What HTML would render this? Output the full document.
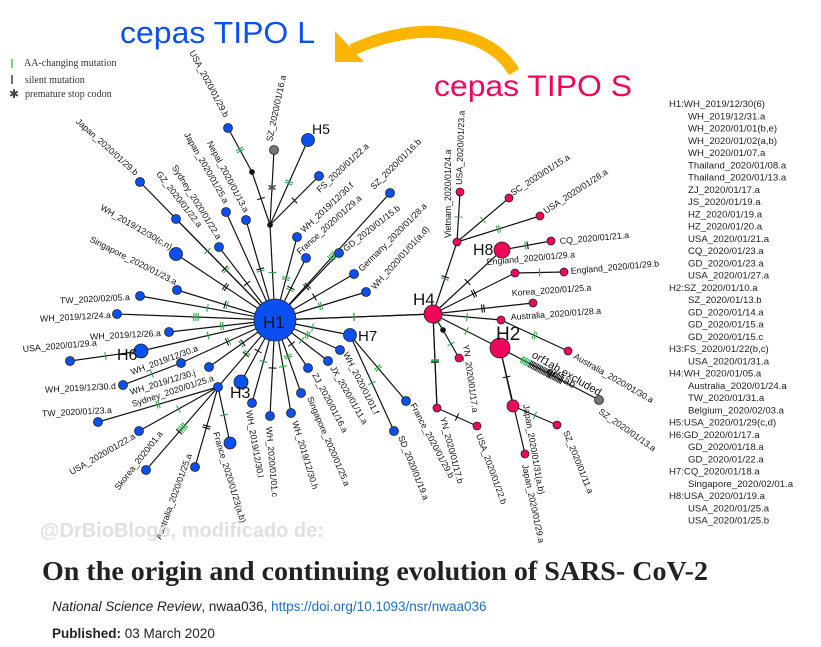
<!DOCTYPE html>
<html><head><meta charset="utf-8"><style>
html,body{margin:0;padding:0;background:#fff;}
body{width:821px;height:647px;overflow:hidden;position:relative;font-family:"Liberation Sans",sans-serif;}
svg{position:absolute;left:0;top:0;}
.lbl{font-size:8.8px;fill:#111;}
</style></head><body>
<svg id="net" width="821" height="647" viewBox="0 0 821 647" xmlns="http://www.w3.org/2000/svg">
  <g id="edges"></g>
  <g id="ticks"></g>
  <g id="nodes"></g>
  <g id="labels"></g>
  <text x="120" y="43" font-size="31" fill="#0b50f0" textLength="195" lengthAdjust="spacingAndGlyphs">cepas TIPO L</text>
  <text x="434" y="96" font-size="30" fill="#f0065c" textLength="198" lengthAdjust="spacingAndGlyphs">cepas TIPO S</text>
  <path d="M514,72 C490,30 420,18 352,50" fill="none" stroke="#fbb400" stroke-width="12"/>
  <polygon points="335,31 335,62 364,62" fill="#fbb400"/>
  <g font-family="Liberation Serif, serif" font-size="10" fill="#333">
    <line x1="12" y1="59" x2="12" y2="68" stroke="#22aa44" stroke-width="1.2"/>
    <text x="24" y="66">AA-changing mutation</text>
    <line x1="12" y1="75" x2="12" y2="84" stroke="#111" stroke-width="1.2"/>
    <text x="25" y="83">silent mutation</text>
    <text x="9" y="98" font-size="12" fill="#444">✱</text>
    <text x="25" y="97">premature stop codon</text>
  </g>
  <g id="hlist" font-size="9.6" fill="#222"></g>
  <text x="40" y="537" font-size="20" font-weight="bold" fill="#e0e0e0">@DrBioBlogo, modificado de:</text>
  <text x="42" y="580" font-family="Liberation Serif, serif" font-size="27" font-weight="bold" fill="#222" textLength="666" lengthAdjust="spacingAndGlyphs">On the origin and continuing evolution of SARS- CoV-2</text>
  <text x="52" y="611" font-size="13.5" fill="#222"><tspan font-style="italic">National Science Review</tspan>, nwaa036, <tspan fill="#1a6fc4">https://doi.org/10.1093/nsr/nwaa036</tspan></text>
  <text x="52" y="638" font-size="13.5" fill="#222"><tspan font-weight="bold">Published:</tspan>  03 March 2020</text>
</svg>
<script>
// node data: label, x, y, radius, colour key, parent index, mutation ticks
const nodeLabels=["H1","J1","J2","USA_2020/01/29.b","SZ_2020/01/16.a","H5","Japan_2020/01/29.b","GZ_2020/01/22.a","Japan_2020/01/25.a","Sydney_2020/01/22.a","Nepal_2020/01/13.a","FS_2020/01/22.a","WH_2019/12/30.f","France_2020/01/29.a","SZ_2020/01/16.b","GD_2020/01/15.b","Germany_2020/01/28.a","WH_2020/01/01(a,d)","WH_2019/12/30(c,n)","Singapore_2020/01/23.a","TW_2020/02/05.a","WH_2019/12/24.a","WH_2019/12/26.a","H6","USA_2020/01/29.a","WH_2019/12/30.a","WH_2019/12/30.d","WH_2019/12/30.j","Sydney_2020/01/25.a","TW_2020/01/23.a","USA_2020/01/22.a","Skorea_2020/01.a","Australia_2020/01/25.a","France_2020/01/23(a,b)","H3","WH_2019/12/30.l","WH_2020/01/01.c","WH_2019/12/30.h","Singapore_2020/01/25.a","ZJ_2020/01/16.a","JX_2020/01/11.a","WH_2020/01/01.f","H7","France_2020/01/29.b","SD_2020/01/19.a","H4","Vietnam_2020/01/24.a","USA_2020/01/23.a","SC_2020/01/15.a","USA_2020/01/28.a","H8","CQ_2020/01/21.a","England_2020/01/29.a","England_2020/01/29.b","Korea_2020/01/25.a","Australia_2020/01/28.a","Australia_2020/01/30.a","H2","J3","YN_2020/01/17.a","YN_2020/01/17.b","USA_2020/01/22.b","Japan_2020/01/31(a,b)","Japan_2020/01/29.a","SZ_2020/01/11.a","SZ_2020/01/13.a"];
const nodeX=[275,270,252,228,274,308,140,176,226,219,246,319,297,306,390,339,354,366,176,177,140,117,169,141,70,181,123,209,218,98,139,146,195,230,241,252,270,291,301,308,328,340,350,406,394,433,457,460,509,540,502,551,515,564,533,501,568,500,443,459,437,477,513,525,557,599];
const nodeY=[320,225,172,128,150,140,182,219,212,247,220,176,237,258,193,253,274,292,254,290,296,314,332,351,361,363,385,367,387,422,431,470,467,443,382,403,416,413,393,368,361,350,335,401,431,314,242,192,198,216,250,241,273,272,303,320,351,348,330,358,408,426,406,454,425,400];
const nodeR=[21,2.5,2.5,4.5,4.5,6.5,4.5,4.5,4.5,4.5,4.5,4.5,4.5,4.5,4.5,4.5,4.5,4.5,6.5,4.5,4.5,4.5,4.5,7,4.5,4.5,4.5,4.5,4.5,4.5,4.5,4.5,4.5,6,7,4.5,4.5,4.5,4.5,4.5,4.5,4.5,6.5,4.5,4.5,9,4,4,4,4,8,4,4,4,4,4,4,10,2.5,4,4,4,6,4,4,4.5];
const nodeColor=["b","k","k","b","g","b","b","b","b","b","b","b","b","b","b","b","b","b","b","b","b","b","b","b","b","b","b","b","b","b","b","b","b","b","b","b","b","b","b","b","b","b","b","b","b","p","p","p","p","p","p","p","p","p","p","p","p","p","k","p","p","p","p","p","p","g"];
const nodeParent=[-1,0,1,2,1,1,0,0,0,0,0,1,0,0,0,0,0,0,0,0,0,0,0,0,23,0,25,0,0,28,28,28,28,28,0,0,0,0,0,0,0,0,0,42,42,0,45,46,46,46,45,50,45,52,45,45,55,45,45,58,45,60,57,57,62,57];
const nodeTicks=["","g","k","gg","*","gg","g","gk","","k","gk","k","gg","gk","gggg","kk","k","gg","kk","gk","g","ggg","gg","g","g","gk","g","kg","gk","gg","g","ggggk","kk","g","k","g","k","g","gg","k","g","gg","g","gg","g","k","gk","g","g","gg","k","gk","kk","g","kk","g","gg","g","g","g","gk","k","k","g","g","gk","*"];
const extraEdges=[[45,60],[0,45]];
// label placement: x, y, rotation, anchor (s=start, e=end)
const labX=[0,0,0,224,272,0,135,198,224,217,244,320,304,300,374,346,362,375,170,175,130,111,161,0,23,132,116,131,133,112,136,163,192,213,0,246,266,292,307,312,330,343,0,410,398,0,451,462,513,546,0,560,487,571,512,511,573,0,0,463,440,476,523,522,563,598];
const labY=[0,0,0,118,142,0,176,228,204,240,213,193,233,255,190,252,272,290,250,285,300,318,336,0,352,375,389,395,407,413,438,434,455,433,0,411,427,422,398,375,368,354,0,405,437,0,238,185,196,214,0,244,265,274,296,320,358,0,0,345,418,435,405,465,432,413];
const labA=[0,0,0,62,-78,0,42,52,60,58,62,-43,-43,-42,-45,-38,-45,-48,30,27,-3,-3,-3,0,-5,-20,-3,-17,-18,-3,-30,-52,-70,73,0,80,85,73,67,62,60,63,0,62,68,0,-90,-88,-33,-33,0,-5,-5,-5,-4,-4,30,0,0,82,75,70,80,78,68,35];
const labAnchor=["","","","e","s","","e","e","e","e","e","s","s","s","s","s","s","s","e","e","e","e","e","","s","s","e","s","s","e","e","e","e","s","","s","s","s","s","s","s","s","","s","s","","s","s","s","s","","s","s","s","s","s","s","","","s","s","s","s","s","s","s"];
const hapNames=["H1","H2","H3","H4","H5","H6","H7","H8"];
const hapX=[263,496,230,413,312,117,358,473];
const hapY=[328,340,398,305,134,360,341,255];
const hapSize=[17,19,16,17,14,16,15,16];
const hapList=["H1:WH_2019/12/30(6)","WH_2019/12/31.a","WH_2020/01/01(b,e)","WH_2020/01/02(a,b)","WH_2020/01/07.a","Thailand_2020/01/08.a","Thailand_2020/01/13.a","ZJ_2020/01/17.a","JS_2020/01/19.a","HZ_2020/01/19.a","HZ_2020/01/20.a","USA_2020/01/21.a","CQ_2020/01/23.a","GD_2020/01/23.a","USA_2020/01/27.a","H2:SZ_2020/01/10.a","SZ_2020/01/13.b","GD_2020/01/14.a","GD_2020/01/15.a","GD_2020/01/15.c","H3:FS_2020/01/22(b,c)","USA_2020/01/31.a","H4:WH_2020/01/05.a","Australia_2020/01/24.a","TW_2020/01/31.a","Belgium_2020/02/03.a","H5:USA_2020/01/29(c,d)","H6:GD_2020/01/17.a","GD_2020/01/18.a","GD_2020/01/22.a","H7:CQ_2020/01/18.a","Singapore_2020/02/01.a","H8:USA_2020/01/19.a","USA_2020/01/25.a","USA_2020/01/25.b"];

const NS="http://www.w3.org/2000/svg";
const colors={b:"#0a50f0",p:"#f0065c",k:"#111",g:"#777"};
function mk(tag,attrs,parent){const e=document.createElementNS(NS,tag);for(const k in attrs)e.setAttribute(k,attrs[k]);parent.appendChild(e);return e;}
const gE=document.getElementById("edges"),gT=document.getElementById("ticks"),gN=document.getElementById("nodes"),gL=document.getElementById("labels"),gH=document.getElementById("hlist");
function edge(a,b,ticks){
  const ln=mk("line",{x1:nodeX[a],y1:nodeY[a],x2:nodeX[b],y2:nodeY[b],stroke:"#111","stroke-width":1.2},gE);
  
  
  if(!ticks)return;
  const dx=nodeX[b]-nodeX[a],dy=nodeY[b]-nodeY[a],L=Math.hypot(dx,dy),ux=dx/L,uy=dy/L,px=-uy,py=ux;
  const n=ticks.length;
  for(let i=0;i<n;i++){
    const t=0.5+(i-(n-1)/2)*(2.2/L);
    const cx=nodeX[a]+dx*t,cy=nodeY[a]+dy*t;
    const c=ticks[i];
    if(c==="*"){const s=mk("text",{x:cx,y:cy+4,"font-size":11,fill:"#555","text-anchor":"middle"},gT);s.textContent="✱";
      
      continue;}
    const tk=mk("line",{x1:cx-px*4,y1:cy-py*4,x2:cx+px*4,y2:cy+py*4,stroke:c==="g"?"#22aa44":"#111","stroke-width":1.1},gT);
    
    
  }
}
nodeParent.forEach((p,i)=>{if(p>=0)edge(p,i,nodeTicks[i]);});
extraEdges.forEach(e=>edge(e[0],e[1],"g"));
(function(){const a=57,b=65;const dx=nodeX[b]-nodeX[a],dy=nodeY[b]-nodeY[a],L=Math.hypot(dx,dy),px=-dy/L,py=dx/L;
  for(let i=0;i<30;i++){const t=0.22+i*0.014;const cx=nodeX[a]+dx*t,cy=nodeY[a]+dy*t;
    const h=mk("line",{x1:cx-px*4,y1:cy-py*4,x2:cx+px*4,y2:cy+py*4,stroke:i<6?"#22aa44":"#111","stroke-width":0.9},gT);
    
    }})();
nodeLabels.forEach((lab,i)=>{
  const c=mk("circle",{cx:nodeX[i],cy:nodeY[i],r:nodeR[i],fill:colors[nodeColor[i]],stroke:"#222","stroke-width":0.8},gN);
  
  
  if(labAnchor[i]){
    const t=mk("text",{class:"lbl",x:labX[i],y:labY[i],"text-anchor":labAnchor[i]==="e"?"end":"start",transform:`rotate(${labA[i]} ${labX[i]} ${labY[i]})`},gL);
    if(nodeColor[i]==="g")t.setAttribute("fill","#999");
    t.textContent=lab;
    
    
  }
});
hapNames.forEach((h,i)=>{
  const t=mk("text",{x:hapX[i],y:hapY[i],"font-size":hapSize[i],fill:"#111"},gL);
  t.textContent=h;
  
  
});
[["orf1ab excluded",531,357,11],["orf1ab",546,373,11]].forEach(o=>{
  const t=mk("text",{x:o[1],y:o[2],"font-size":o[3],fill:"#111",transform:`rotate(30 ${o[1]} ${o[2]})`},gL);
  t.textContent=o[0];
  
  
});
hapList.forEach((s,i)=>{
  const head=/^H\d:/.test(s);
  const t=mk("text",{x:head?669:688,y:107+i*12.25},gH);
  t.textContent=s;
  
  
});
</script>
</body></html>
